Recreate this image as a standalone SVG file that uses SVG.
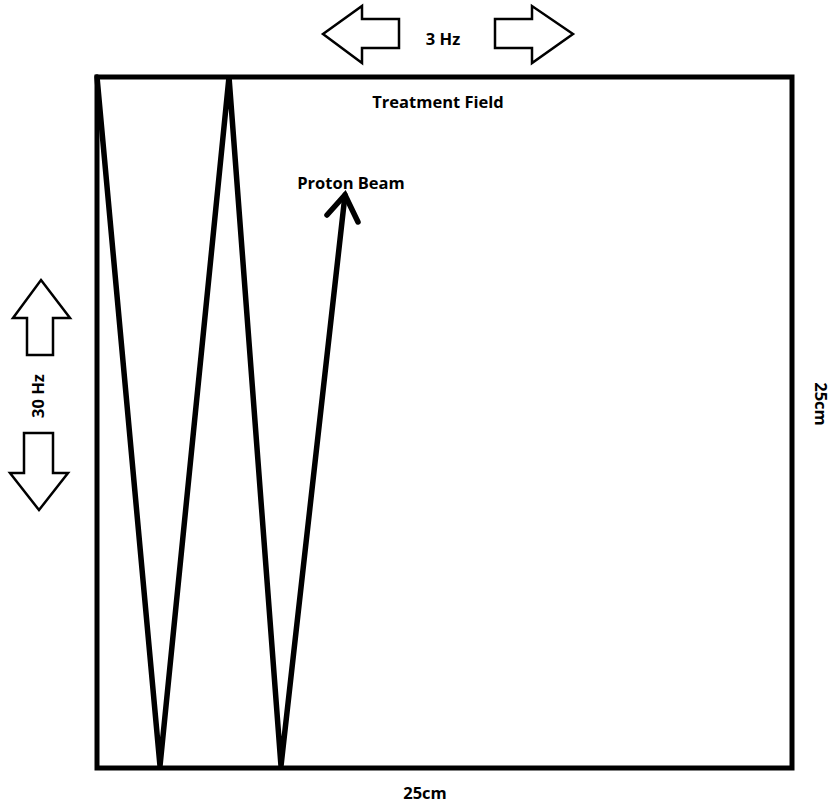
<svg xmlns="http://www.w3.org/2000/svg" width="833" height="807" viewBox="0 0 833 807">
<style>
.t{font-family:"Open Sans","Liberation Sans",sans-serif;font-weight:bold;font-size:16.5px;fill:#000;text-anchor:middle}
.ar{fill:#fff;stroke:#000;stroke-width:2.5;stroke-linejoin:miter}
.ln{fill:none;stroke:#000;stroke-width:5.5;stroke-linejoin:miter;stroke-linecap:round}
</style>
<rect width="833" height="807" fill="#fff"/>
<g id="field">
<rect x="97" y="77" width="695" height="691" fill="none" stroke="#000" stroke-width="5"/>
<text class="t" x="438" y="108">Treatment Field</text>
</g>
<g id="freq-3hz">
<polygon class="ar" points="323,34 362,6 362,19 399,19 399,48 362,48 362,63"/>
<polygon class="ar" points="573,34 532,6 532,19 495,19 495,48 532,48 532,63"/>
<text class="t" x="443" y="45">3 Hz</text>
</g>
<g id="freq-30hz">
<polygon class="ar" points="41,280 70,318 53,318 53,355 27,355 27,318 13,318"/>
<polygon class="ar" points="39,510 68,473 53,473 53,433 24,433 24,473 10,473"/>
<text class="t" transform="translate(44,396) rotate(-90)">30 Hz</text>
</g>
<g id="dimensions">
<text class="t" x="425" y="799">25cm</text>
<text class="t" transform="translate(815,404) rotate(90)">25cm</text>
</g>
<g id="connectors">
<polyline class="ln" points="97,77 160,766 229,77 281,766 345,195"/>
<polyline class="ln" points="327,215 345,195 358,222"/>
</g>
<g id="beam-label">
<text class="t" x="351" y="189">Proton Beam</text>
</g>
</svg>
